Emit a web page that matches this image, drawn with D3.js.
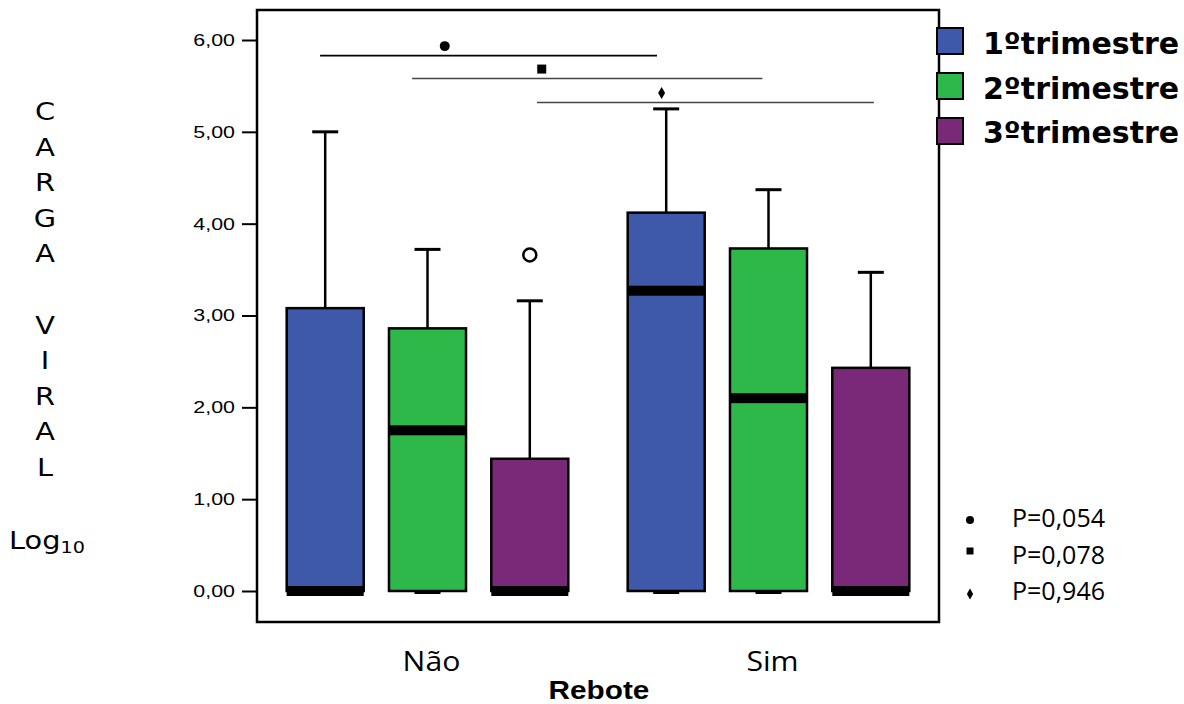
<!DOCTYPE html>
<html><head><meta charset="utf-8">
<script src="https://cdn.jsdelivr.net/npm/d3@7"></script>
<style>body{margin:0;background:#fff}</style>
</head><body>
<svg id="c" width="1184" height="704"></svg>
<script>
// ---------- data ----------
const groups = ["Não", "Sim"];
const series = ["1ºtrimestre", "2ºtrimestre", "3ºtrimestre"];
const colors = ["#3F59AA", "#2EB84A", "#7A2878"];
const q1 = [[0, 0, 0], [0, 0, 0]];
const medians = [[0, 1.75, 0], [3.27, 2.10, 0]];
const q3 = [[3.08, 2.86, 1.44], [4.12, 3.73, 2.43]];
const whiskerLow = [[0, 0, 0], [0, 0, 0]];
const whiskerHigh = [[5.00, 3.72, 3.16], [5.25, 4.37, 3.47]];
const outliers = [{ g: 0, s: 2, v: 3.66 }];
const yTicks = [0, 1, 2, 3, 4, 5, 6];
const compFrom = [[0, -0.05], [0, 0.85], [0, 2.07]];   // [group, slot]
const compTo = [[1, -0.09], [1, 0.94], [1, 2.03]];
const compLevel = [5.83, 5.58, 5.32];
const compSymbols = ["circle", "square", "diamond"];
const compColors = ["#000", "#444", "#444"];
const pLabels = ["P=0,054", "P=0,078", "P=0,946"];
const yTitleLetters = ["C", "A", "R", "G", "A", "", "V", "I", "R", "A", "L"];

// ---------- layout ----------
const svg = d3.select("#c");
const frame = { left: 257, top: 10, right: 939, bottom: 622 };
const y = d3.scaleLinear().domain([0, 6]).range([591, 40]);
const x0 = d3.scaleBand().domain(groups).range([frame.left, frame.right])
  .paddingInner(0.1).paddingOuter(0.05);
const x1 = d3.scaleBand().domain([0, 1, 2]).range([0, x0.bandwidth()])
  .paddingInner(0.247).paddingOuter(0.1235);
const slotCenter = (g, s) => {
  const base = x0(groups[g]);
  const step = x1.step();
  return base + x1(0) + x1.bandwidth() / 2 + s * step;
};

// frame
svg.append("rect").attr("x", frame.left).attr("y", frame.top)
  .attr("width", frame.right - frame.left).attr("height", frame.bottom - frame.top)
  .attr("fill", "none").attr("stroke", "#000").attr("stroke-width", 2.5);

// y axis
const fmt = d => d3.format(".2f")(d).replace(".", ",");
const ax = svg.append("g").attr("transform", `translate(${frame.left},0)`)
  .call(d3.axisLeft(y).tickValues(yTicks).tickFormat(fmt).tickSize(15).tickPadding(7));
ax.select(".domain").remove();
ax.selectAll(".tick line").attr("stroke", "#000").attr("stroke-width", 2);
ax.selectAll(".tick text")
  .attr("font-family", "Liberation Sans, Arial, sans-serif")
  .attr("font-size", 17).attr("fill", "#000")
  .attr("transform", "translate(-22,0) scale(1.26,1)").attr("x", 0);

// boxes
const boxData = [];
groups.forEach((g, gi) => series.forEach((s, si) => boxData.push({ gi, si })));
const bw = x1.bandwidth();
const capW = 26;
const bg = svg.append("g");
boxData.forEach(d => {
  const cx = slotCenter(d.gi, d.si);
  const g = bg.append("g");
  g.append("line").attr("x1", cx).attr("x2", cx)
    .attr("y1", y(q3[d.gi][d.si])).attr("y2", y(whiskerHigh[d.gi][d.si]))
    .attr("stroke", "#000").attr("stroke-width", 2.5);
  g.append("line").attr("x1", cx - capW / 2).attr("x2", cx + capW / 2)
    .attr("y1", y(whiskerHigh[d.gi][d.si])).attr("y2", y(whiskerHigh[d.gi][d.si]))
    .attr("stroke", "#000").attr("stroke-width", 3);
  g.append("line").attr("x1", cx - capW / 2).attr("x2", cx + capW / 2)
    .attr("y1", y(whiskerLow[d.gi][d.si]) + 1.5).attr("y2", y(whiskerLow[d.gi][d.si]) + 1.5)
    .attr("stroke", "#000").attr("stroke-width", 3);
  g.append("rect").attr("x", cx - bw / 2).attr("width", bw)
    .attr("y", y(q3[d.gi][d.si])).attr("height", y(q1[d.gi][d.si]) - y(q3[d.gi][d.si]))
    .attr("fill", colors[d.si]).attr("stroke", "#000").attr("stroke-width", 2.5);
  g.append("rect").attr("x", cx - bw / 2).attr("width", bw)
    .attr("y", y(medians[d.gi][d.si]) - 5).attr("height", 10).attr("fill", "#000");
});

// outliers
svg.selectAll("circle.out").data(outliers).join("circle").attr("class", "out")
  .attr("cx", d => slotCenter(d.g, d.s)).attr("cy", d => y(d.v)).attr("r", 6.5)
  .attr("fill", "#fff").attr("stroke", "#000").attr("stroke-width", 2.5);

// significance lines
const symType = { circle: d3.symbolCircle, square: d3.symbolSquare, diamond: d3.symbolDiamond };
const symSize = { circle: 78, square: 81, diamond: 42 };
compLevel.forEach((lv, i) => {
  const xa = slotCenter(compFrom[i][0], compFrom[i][1]);
  const xb = slotCenter(compTo[i][0], compTo[i][1]);
  svg.append("line").attr("x1", xa).attr("x2", xb).attr("y1", y(lv)).attr("y2", y(lv))
    .attr("stroke", compColors[i]).attr("stroke-width", 1.6);
  svg.append("path").attr("d", d3.symbol(symType[compSymbols[i]], symSize[compSymbols[i]])())
    .attr("transform", `translate(${xa + (xb - xa) * 0.37},${y(lv) - 9.5})`).attr("fill", "#000");
});

// legend
const lg = svg.append("g");
series.forEach((s, i) => {
  lg.append("rect").attr("x", 937).attr("y", 28 + i * 45).attr("width", 26).attr("height", 26)
    .attr("fill", colors[i]).attr("stroke", "#000").attr("stroke-width", 2);
  lg.append("text").attr("x", 983).attr("y", 54 + i * 44.5)
    .attr("font-family", "Verdana, DejaVu Sans, sans-serif").attr("font-weight", "bold")
    .attr("font-size", 30).attr("fill", "#000").text(s);
});

// p-value legend
const pSizes = { circle: 50, square: 49, diamond: 34 };
const pSymY = [520, 551, 594];
pLabels.forEach((p, i) => {
  svg.append("path").attr("d", d3.symbol(symType[compSymbols[i]], pSizes[compSymbols[i]])())
    .attr("transform", `translate(970,${pSymY[i]})`).attr("fill", "#000");
  svg.append("text").attr("x", 1012).attr("y", 527 + i * 36.5)
    .attr("font-family", "Open Sans, sans-serif").attr("font-size", 25)
    .attr("fill", "#000").text(p);
});

// x category labels
groups.forEach((g, gi) => {
  svg.append("text").attr("transform", `translate(${slotCenter(gi, 1) + 4},671) scale(1.12,1)`)
    .attr("text-anchor", "middle").attr("font-family", "Open Sans, sans-serif")
    .attr("font-size", 27).attr("fill", "#000").text(g);
});
svg.append("text").attr("transform", `translate(599,699) scale(1.19,1)`)
  .attr("text-anchor", "middle").attr("font-family", "Liberation Sans, Arial, sans-serif")
  .attr("font-weight", "bold").attr("font-size", 25).attr("fill", "#000").text("Rebote");

// y title
yTitleLetters.forEach((l, i) => {
  svg.append("text").attr("transform", `translate(45,${120 + i * 35.6}) scale(1.2,1)`)
    .attr("text-anchor", "middle").attr("font-family", "DejaVu Sans, sans-serif")
    .attr("font-size", 24).attr("fill", "#000").text(l);
});
const lt = svg.append("text").attr("transform", "translate(9,549) scale(1.2,1)")
  .attr("font-family", "DejaVu Sans, sans-serif").attr("font-size", 24).attr("fill", "#000");
lt.append("tspan").text("Log");
lt.append("tspan").attr("font-size", 16).attr("dy", 4).text("10");
</script>
</body></html>
